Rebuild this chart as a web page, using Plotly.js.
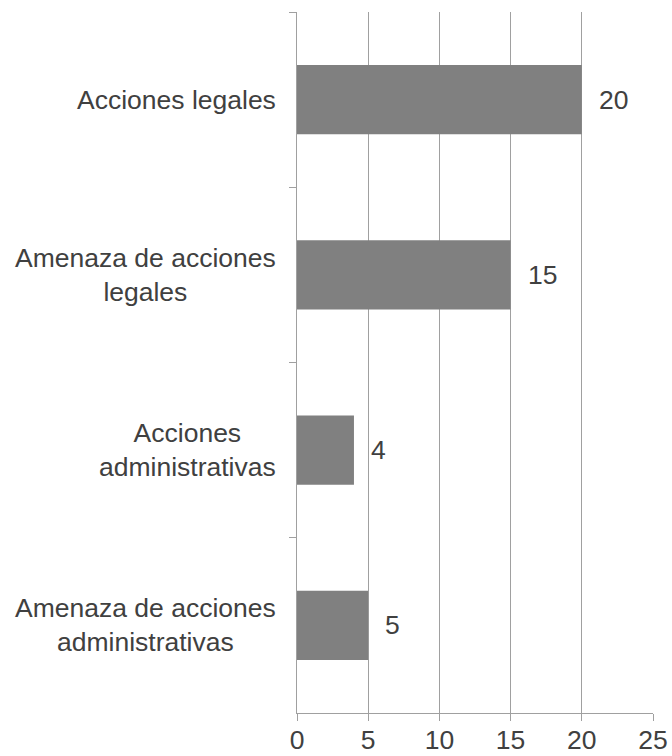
<!DOCTYPE html>
<html>
<head>
<meta charset="utf-8">
<script src="https://cdn.plot.ly/plotly-3.0.1.min.js"></script>
<style>html,body{margin:0;padding:0;background:#fff;}#chart{width:672px;height:756px;}</style>
</head>
<body>
<div id="chart"></div>
<script>
// Data (top to bottom)
const categories = ["Acciones legales", "Amenaza de acciones legales", "Acciones administrativas", "Amenaza de acciones administrativas"];
const categoryLabels = ["Acciones legales", "Amenaza de acciones<br>legales", "Acciones<br>administrativas", "Amenaza de acciones<br>administrativas"];
const values = [20, 15, 4, 5];
const xTicks = [0, 5, 10, 15, 20, 25];

const textColor = "#404040";
const lineColor = "#a0a0a0";
const fontFamily = "Liberation Sans, Arial, sans-serif";
const fontSize = 26.5;

const trace = {
  type: "bar",
  orientation: "h",
  x: values,
  y: categories,
  marker: {color: "#808080"},
  hoverinfo: "none"
};

const annotations = [];
categories.forEach((c, i) => {
  annotations.push({
    xref: "paper", yref: "y", x: 0, y: c,
    text: categoryLabels[i], showarrow: false,
    xanchor: "right", yanchor: "middle", align: "center",
    xshift: -19,
    font: {family: fontFamily, size: fontSize, color: textColor}
  });
  annotations.push({
    xref: "x", yref: "y", x: values[i], y: c,
    text: String(values[i]), showarrow: false,
    xanchor: "left", yanchor: "middle",
    xshift: 15,
    font: {family: fontFamily, size: fontSize, color: textColor}
  });
});

const layout = {
  width: 672, height: 756,
  margin: {l: 297, r: 19, t: 12, b: 43},
  paper_bgcolor: "#fff", plot_bgcolor: "#fff",
  showlegend: false,
  bargap: 0.605,
  font: {family: fontFamily, size: fontSize, color: textColor},
  xaxis: {
    range: [0, 25],
    tickvals: xTicks,
    ticktext: xTicks.map(String),
    showgrid: true, gridcolor: lineColor, gridwidth: 1,
    zeroline: false,
    showline: true, linecolor: lineColor, linewidth: 1,
    ticks: "outside", ticklen: 7, tickcolor: lineColor, tickwidth: 1,
    ticklabelstandoff: -4,
    tickfont: {family: fontFamily, size: fontSize, color: textColor},
    fixedrange: true
  },
  yaxis: {
    autorange: "reversed",
    type: "category",
    showgrid: false, zeroline: false,
    showline: true, linecolor: lineColor, linewidth: 1,
    ticks: "outside", tickson: "boundaries", ticklen: 7, tickcolor: lineColor, tickwidth: 1,
    showticklabels: false,
    fixedrange: true
  },
  annotations: annotations
};

Plotly.newPlot("chart", [trace], layout, {displayModeBar: false, staticPlot: true});
</script>
</body>
</html>
